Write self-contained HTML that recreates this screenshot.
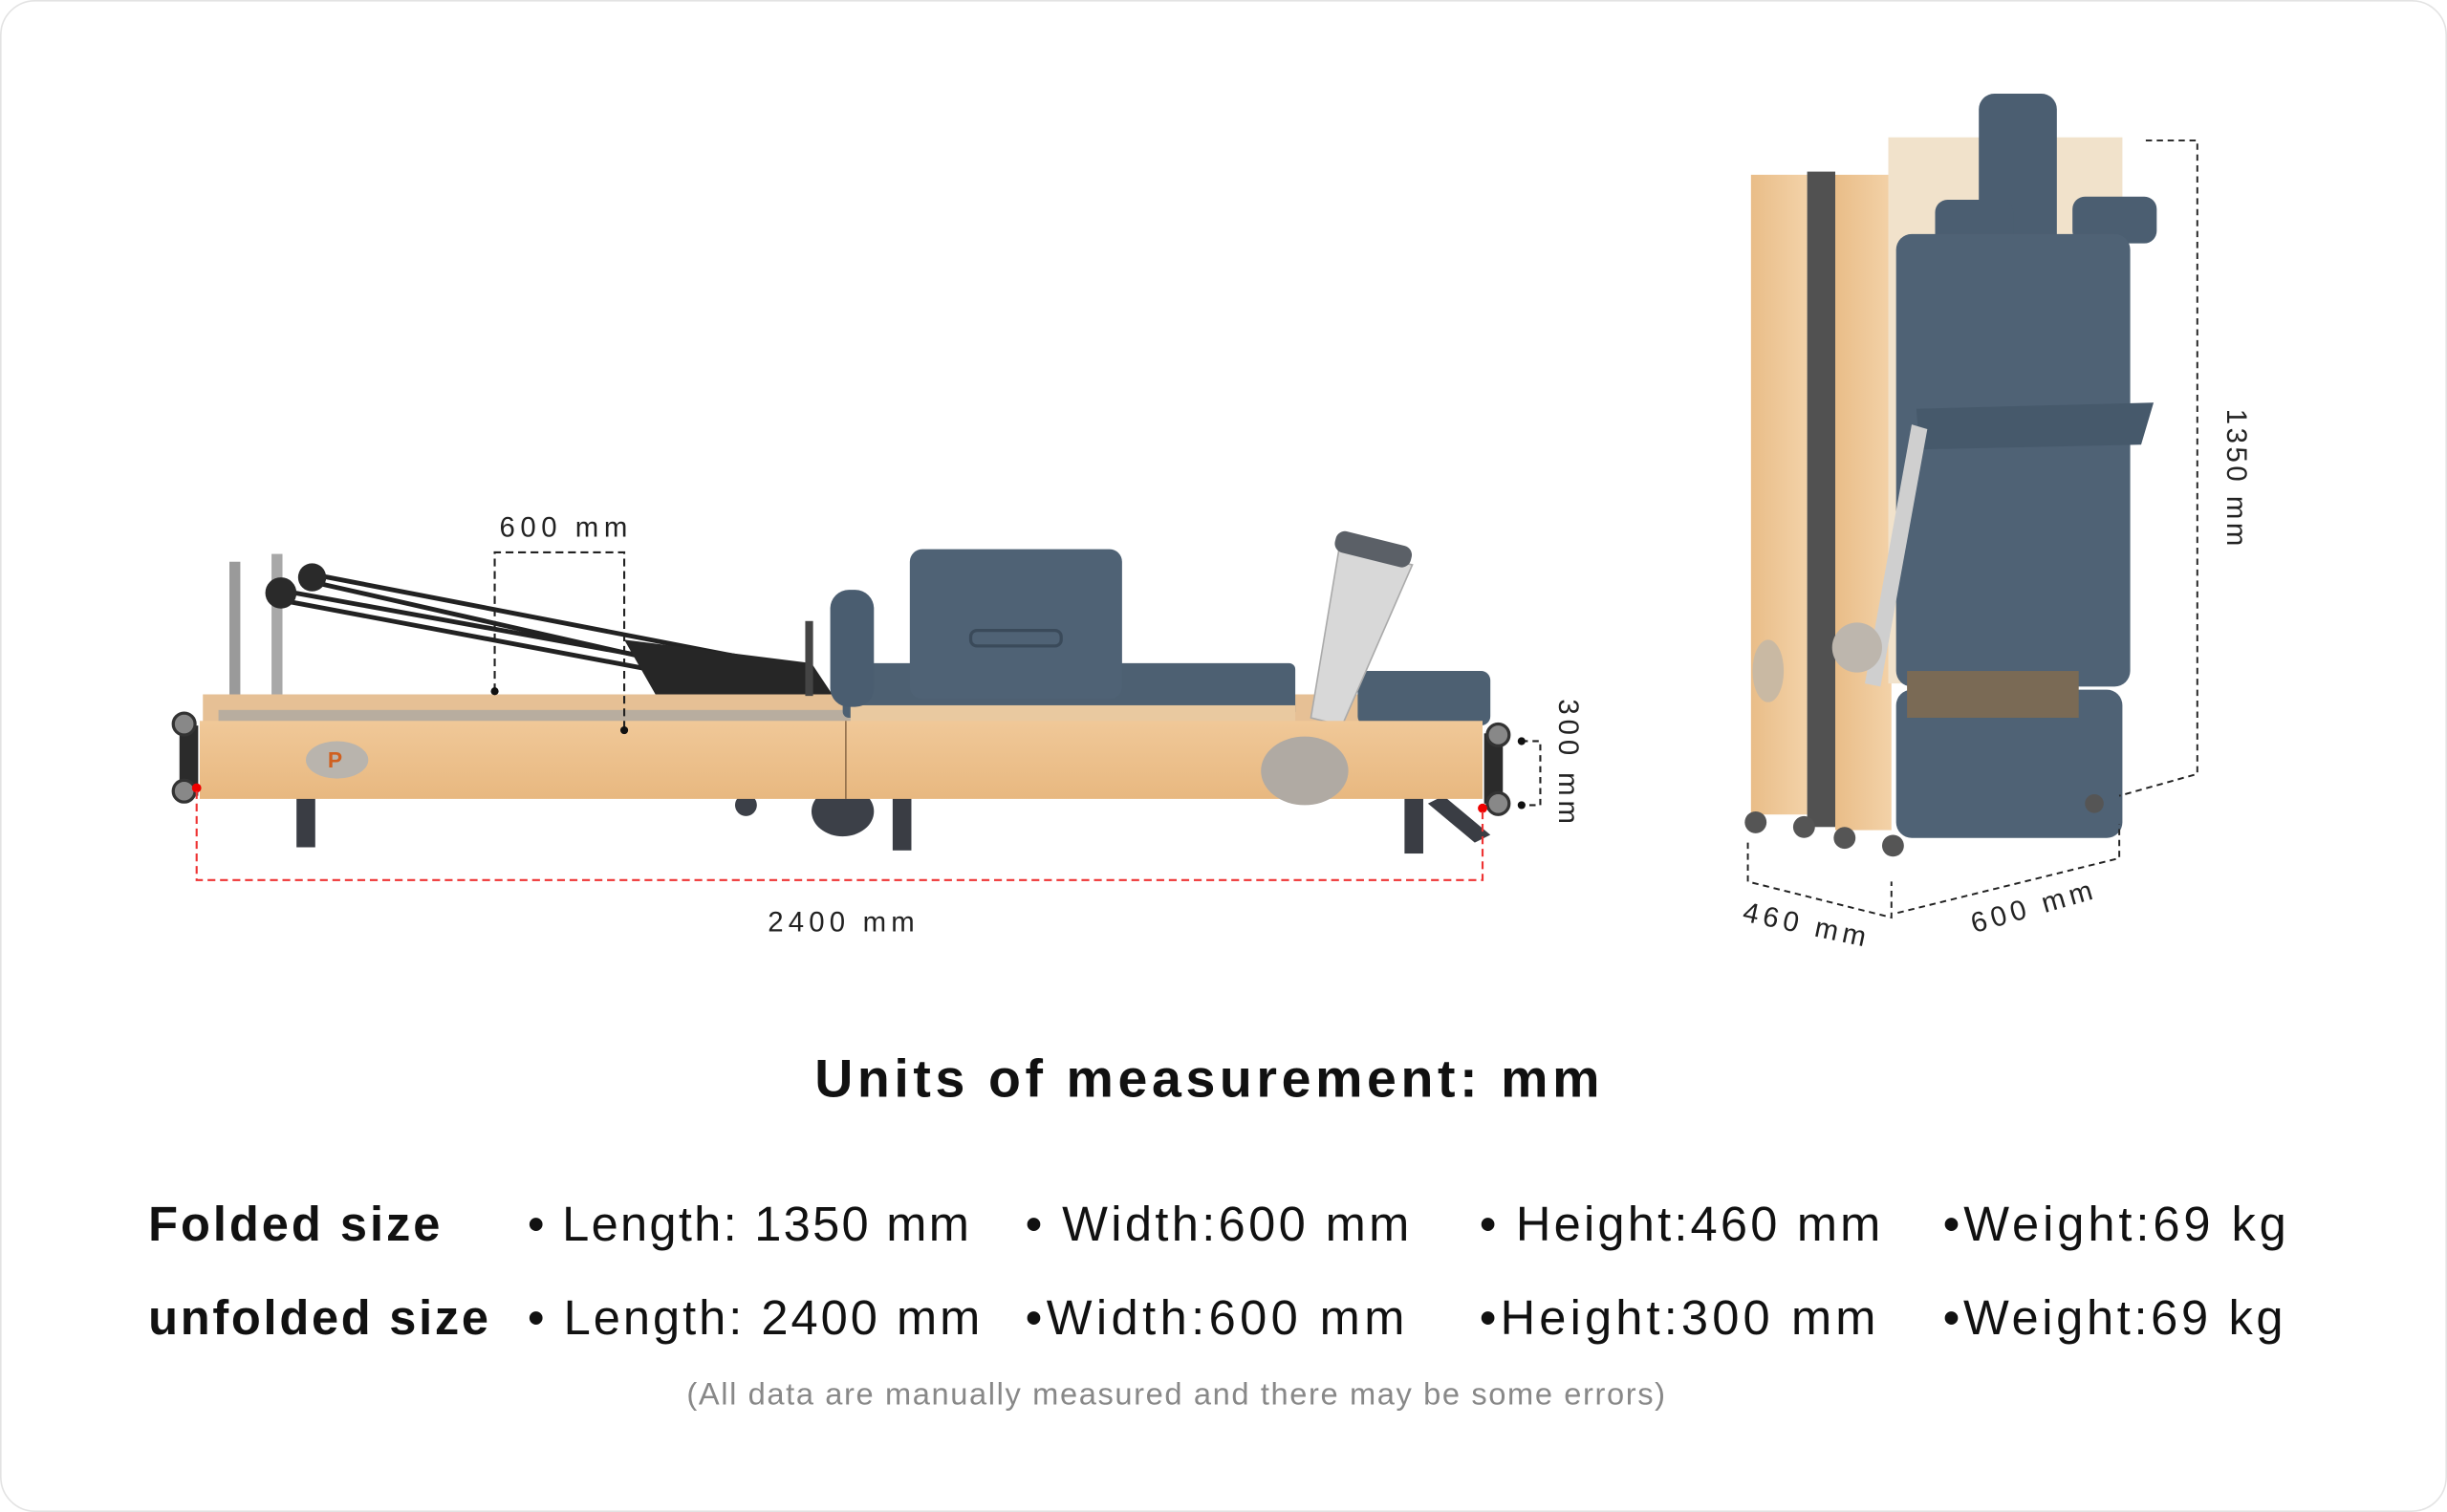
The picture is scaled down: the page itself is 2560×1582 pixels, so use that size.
<!DOCTYPE html>
<html><head><meta charset="utf-8"><style>
html,body{margin:0;padding:0;background:#fff}
svg{display:block}
</style></head><body>
<svg width="2560" height="1582" viewBox="0 0 1568 969" preserveAspectRatio="none" xmlns="http://www.w3.org/2000/svg" font-family="Liberation Sans, sans-serif">
<rect x="0.5" y="0.5" width="1567" height="968" rx="22" fill="#fff" stroke="#e3e3e3"/>
<defs>
<linearGradient id="wood" x1="0" y1="0" x2="0" y2="1"><stop offset="0" stop-color="#f0c898"/><stop offset="1" stop-color="#e8b880"/></linearGradient>
<linearGradient id="wood2" x1="0" y1="0" x2="1" y2="0"><stop offset="0" stop-color="#e9bd88"/><stop offset="1" stop-color="#f3d2a8"/></linearGradient>
</defs>
<g>
<rect x="190" y="505" width="12" height="38" fill="#3a3d44"/>
<rect x="572" y="505" width="12" height="40" fill="#3a3d44"/>
<rect x="900" y="505" width="12" height="42" fill="#3a3d44"/>
<ellipse cx="540" cy="520" rx="20" ry="16" fill="#3c4048"/>
<circle cx="478" cy="516" r="7" fill="#3c4048"/>
<path d="M915 515 L945 540 L955 535 L925 510Z" fill="#3a3d44"/>
<rect x="147" y="360" width="7" height="100" fill="#9a9a9a"/>
<rect x="174" y="355" width="7" height="90" fill="#a8a8a8"/>
<g stroke="#222" stroke-width="3" fill="none">
<path d="M178 378 L520 440"/><path d="M200 368 L520 430"/><path d="M182 385 L560 456"/><path d="M196 372 L540 450"/>
</g>
<circle cx="180" cy="380" r="10" fill="#2a2a2a"/><circle cx="200" cy="370" r="9" fill="#2a2a2a"/>
<path d="M400 410 L520 425 L540 455 L420 445Z" fill="#262626"/>
<rect x="130" y="445" width="820" height="20" fill="#e6c095"/>
<rect x="140" y="455" width="560" height="10" fill="#b8ad9f"/>
<rect x="540" y="425" width="290" height="35" fill="#4d6072" rx="4"/>
<rect x="545" y="452" width="285" height="12" fill="#e9c9a0"/>
<rect x="870" y="430" width="85" height="35" rx="6" fill="#4d6072"/>
<rect x="532" y="378" width="28" height="75" rx="12" fill="#4a5d70"/>
<rect x="583" y="352" width="136" height="96" rx="8" fill="#4f6275"/>
<rect x="622" y="404" width="58" height="10" rx="4" fill="none" stroke="#3a4a5a" stroke-width="2"/>
<rect x="516" y="398" width="5" height="48" fill="#444"/>
<path d="M858 352 L905 362 L860 465 L840 460Z" fill="#d8d8d8" stroke="#aaa"/>
<rect x="855" y="345" width="50" height="14" rx="6" fill="#5b6067" transform="rotate(14 880 352)"/>
<rect x="128" y="462" width="822" height="50" fill="url(#wood)"/>
<line x1="542" y1="462" x2="542" y2="512" stroke="#7a5a3a" stroke-width="0.8"/>
<ellipse cx="216" cy="487" rx="20" ry="12" fill="#b9b4ad"/>
<text x="210" y="492" font-size="14" font-weight="bold" fill="#d06020">P</text>
<ellipse cx="836" cy="494" rx="28" ry="22" fill="#b0aaa3"/>
<rect x="115" y="465" width="12" height="45" fill="#2b2b2b"/>
<rect x="951" y="470" width="12" height="45" fill="#2b2b2b"/>
<circle cx="118" cy="464" r="7" fill="#888" stroke="#333" stroke-width="2"/><circle cx="118" cy="507" r="7" fill="#888" stroke="#333" stroke-width="2"/>
<circle cx="960" cy="471" r="7" fill="#888" stroke="#333" stroke-width="2"/><circle cx="960" cy="515" r="7" fill="#888" stroke="#333" stroke-width="2"/>
<circle cx="126" cy="505" r="3" fill="#e00"/><circle cx="950" cy="518" r="3" fill="#e00"/>
</g>
<path d="M126 507 V564 H950 V518" fill="none" stroke="#e33" stroke-width="1.3" stroke-dasharray="5,3"/>
<text x="492" y="597" font-size="18" textLength="94" fill="#222">2400 mm</text>
<path d="M317 443 V354 H400 V468" fill="none" stroke="#222" stroke-width="1.3" stroke-dasharray="5,3"/>
<circle cx="317" cy="443" r="2.5" fill="#111"/><circle cx="400" cy="468" r="2.5" fill="#111"/>
<text x="320" y="344" font-size="18" textLength="82" fill="#222">600 mm</text>
<path d="M975 475 H987 V516 H975" fill="none" stroke="#222" stroke-width="1.3" stroke-dasharray="4,3"/>
<circle cx="975" cy="475" r="2.5" fill="#111"/><circle cx="975" cy="516" r="2.5" fill="#111"/>
<text x="0" y="0" font-size="18" fill="#222" textLength="80" transform="translate(999 448) rotate(90)">300 mm</text>
<g>
<rect x="1122" y="112" width="36" height="410" fill="url(#wood2)"/>
<rect x="1176" y="112" width="36" height="420" fill="url(#wood2)"/>
<rect x="1158" y="110" width="18" height="420" fill="#333" opacity="0.85"/>
<rect x="1210" y="88" width="150" height="350" fill="#f1e2cb"/>
<rect x="1268" y="60" width="50" height="100" rx="10" fill="#4b5e71"/>
<rect x="1240" y="128" width="50" height="30" rx="8" fill="#4b5e71"/>
<rect x="1328" y="126" width="54" height="30" rx="8" fill="#4b5e71"/>
<rect x="1215" y="150" width="150" height="290" rx="10" fill="#4f6275"/>
<path d="M1228 262 L1380 258 L1372 285 L1230 288Z" fill="#46596b"/>
<rect x="1215" y="442" width="145" height="95" rx="10" fill="#4f6275"/>
<rect x="1222" y="430" width="110" height="30" fill="#7a6a55"/>
<path d="M1225 272 L1235 275 L1205 440 L1195 438Z" fill="#cfcfcf"/>
<circle cx="1190" cy="415" r="16" fill="#bdb6ad"/>
<ellipse cx="1133" cy="430" rx="10" ry="20" fill="#c9b9a3"/>
<g fill="#555"><circle cx="1125" cy="527" r="7"/><circle cx="1156" cy="530" r="7"/><circle cx="1182" cy="537" r="7"/><circle cx="1213" cy="542" r="7"/><circle cx="1342" cy="515" r="6"/></g>
</g>
<path d="M1375 90 H1408 V496 L1358 510" fill="none" stroke="#222" stroke-width="1.2" stroke-dasharray="4,3"/>
<text x="0" y="0" font-size="18" fill="#222" textLength="88" transform="translate(1427 262) rotate(90)">1350 mm</text>
<path d="M1120 540 V565 L1212 588 V565 M1216 585 L1358 550 V528" fill="none" stroke="#222" stroke-width="1.2" stroke-dasharray="4,3"/>
<text x="0" y="0" font-size="18" fill="#222" textLength="80" transform="translate(1116 590) rotate(12)">460 mm</text>
<text x="0" y="0" font-size="18" fill="#222" textLength="80" transform="translate(1265 598) rotate(-16)">600 mm</text>
<text x="522" y="703" font-size="34" font-weight="bold" textLength="503" fill="#111">Units of measurement: mm</text>
<g font-size="31" fill="#111">
<text x="95" y="795" font-weight="bold" textLength="187">Folded size</text>
<text x="338" y="795" textLength="283">• Length: 1350 mm</text>
<text x="657" y="795" textLength="246">• Width:600 mm</text>
<text x="948" y="795" textLength="257">• Height:460 mm</text>
<text x="1245" y="795" textLength="220">•Weight:69 kg</text>
<text x="95" y="855" font-weight="bold" textLength="218">unfolded size</text>
<text x="338" y="855" textLength="290">• Length: 2400 mm</text>
<text x="657" y="855" textLength="243">•Width:600 mm</text>
<text x="948" y="855" textLength="254">•Height:300 mm</text>
<text x="1245" y="855" textLength="218">•Weight:69 kg</text>
</g>
<text x="440" y="900" font-size="20" textLength="627" fill="#888">(All data are manually measured and there may be some errors)</text>
</svg>
</body></html>
